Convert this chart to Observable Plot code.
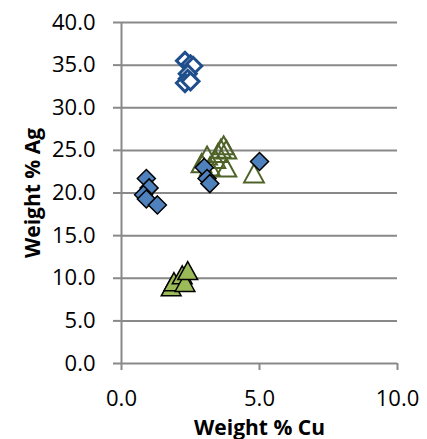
<!DOCTYPE html>
<html>
<head>
<meta charset="utf-8">
<script src="https://cdn.jsdelivr.net/npm/d3@7"></script>
<script src="https://cdn.jsdelivr.net/npm/@observablehq/plot@0.6"></script>
<style>
  html, body { margin: 0; padding: 0; background: #fff; }
  #chart svg { display: block; }
</style>
</head>
<body>
<div id="chart"></div>
<script>
// Filled blue diamonds
const blueFilledCu = [0.9, 1.0, 0.8, 0.9, 1.3, 3.0, 3.1, 3.2, 5.0];
const blueFilledAg = [21.7, 20.6, 19.8, 19.3, 18.6, 23.0, 21.7, 21.1, 23.7];
// Open blue diamonds
const blueOpenCu = [2.3, 2.5, 2.6, 2.4, 2.4, 2.3, 2.5];
const blueOpenAg = [35.5, 35.1, 34.9, 34.0, 33.4, 32.9, 33.1];
// Filled green triangles
const greenFilledCu = [1.8, 1.9, 2.2, 2.3, 2.4];
const greenFilledAg = [9.0, 9.6, 10.4, 9.5, 10.9];
// Open green triangles
const greenOpenCu = [2.9, 3.1, 3.2, 3.4, 3.5, 3.6, 3.7, 3.8, 3.8, 4.8];
const greenOpenAg = [23.5, 24.4, 23.1, 24.0, 24.7, 25.2, 25.6, 25.1, 23.0, 22.3];

const xTicks = [0, 5, 10];
const yTicks = [0, 5, 10, 15, 20, 25, 30, 35, 40];
const xLabel = "Weight % Cu";
const yLabel = "Weight % Ag";

const toRows = (xs, ys) => xs.map((x, i) => ({x, y: ys[i]}));

const diamondSym = {
  draw(ctx, size) {
    const r = Math.sqrt(size / Math.PI);
    ctx.moveTo(0, -r); ctx.lineTo(r, 0); ctx.lineTo(0, r); ctx.lineTo(-r, 0); ctx.closePath();
  }
};
const triangleSym = {
  draw(ctx, size) {
    const r = Math.sqrt(size / Math.PI);
    ctx.moveTo(0, -r); ctx.lineTo(r * 1.1, r); ctx.lineTo(-r * 1.1, r); ctx.closePath();
  }
};

const grid = "#898989";
const fmt = d3.format(".1f");

const chart = Plot.plot({
  width: 427,
  height: 439,
  marginLeft: 121,
  marginRight: 30,
  marginTop: 22,
  marginBottom: 76,
  style: { background: "#fff", color: "#000", fontFamily: "'Open Sans', sans-serif" },
  x: { domain: [0, 10] },
  y: { domain: [0, 40] },
  marks: [
    Plot.gridY(yTicks.filter(d => d > 0), { stroke: grid, strokeOpacity: 1, strokeWidth: 2 }),
    Plot.axisY({ ticks: yTicks, tickFormat: fmt, tickSize: 8, tickPadding: 18, fontSize: 22, stroke: grid, strokeWidth: 2, label: null }),
    Plot.axisX({ ticks: xTicks, tickFormat: fmt, tickSize: 7, tickPadding: 20, fontSize: 22, stroke: grid, strokeWidth: 2, label: null }),
    Plot.ruleX([0], { stroke: grid, strokeWidth: 2 }),
    Plot.ruleY([0], { stroke: grid, strokeWidth: 2 }),
    Plot.dot(toRows(blueOpenCu, blueOpenAg), { x: "x", y: "y", symbol: diamondSym, r: 8.5, fill: "#fff", stroke: "#1F4E8C", strokeWidth: 3 }),
    Plot.dot(toRows(greenOpenCu, greenOpenAg), { x: "x", y: "y", symbol: triangleSym, r: 9, fill: "none", stroke: "#4F6228", strokeWidth: 2 }),
    Plot.dot(toRows(blueFilledCu, blueFilledAg), { x: "x", y: "y", symbol: diamondSym, r: 9, fill: "#4F81BD", stroke: "#000", strokeWidth: 1.5 }),
    Plot.dot(toRows(greenFilledCu, greenFilledAg), { x: "x", y: "y", symbol: triangleSym, r: 9, fill: "#9BBB59", stroke: "#000", strokeWidth: 1.5 }),
    Plot.text([xLabel], { frameAnchor: "bottom", lineAnchor: "bottom", textAnchor: "middle", dy: 71, fontSize: 21, fontWeight: "bold", fill: "#000" }),
    Plot.text([yLabel], { frameAnchor: "left", lineAnchor: "bottom", textAnchor: "middle", rotate: -90, dx: -82, fontSize: 21, fontWeight: "bold", fill: "#000" })
  ]
});
document.getElementById("chart").appendChild(chart);
</script>
</body>
</html>
